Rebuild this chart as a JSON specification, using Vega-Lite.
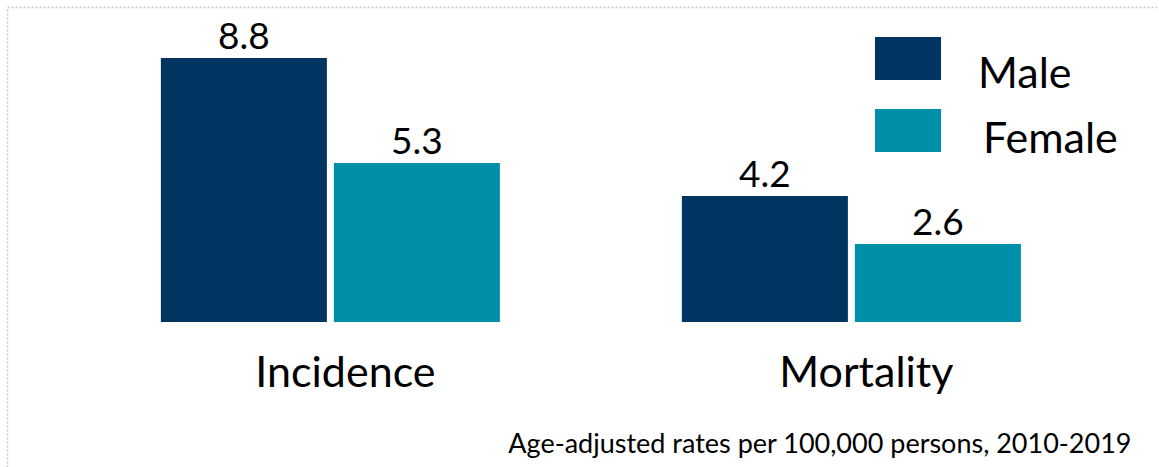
{
  "$schema": "https://vega.github.io/schema/vega-lite/v6.json",
  "width": 1152,
  "height": 460,
  "padding": {"left": 7, "top": 7, "right": 0, "bottom": 0},
  "autosize": {"type": "none"},
  "background": "white",
  "config": {
    "view": {"stroke": null},
    "font": "Lato",
    "axis": {"grid": false}
  },
  "data": {
    "values": [
      {"measure": "Incidence", "sex": "Male", "rate": 8.8},
      {"measure": "Incidence", "sex": "Female", "rate": 5.3},
      {"measure": "Mortality", "sex": "Male", "rate": 4.2},
      {"measure": "Mortality", "sex": "Female", "rate": 2.6}
    ]
  },
  "encoding": {
    "x": {
      "field": "measure",
      "type": "nominal",
      "sort": ["Incidence", "Mortality"],
      "scale": {"paddingInner": 0.3493, "paddingOuter": 0.2802, "align": 0.527}
    },
    "xOffset": {
      "field": "sex",
      "type": "nominal",
      "sort": ["Male", "Female"],
      "scale": {"paddingInner": 0.0405, "paddingOuter": 0}
    },
    "y": {
      "field": "rate",
      "type": "quantitative",
      "scale": {"domain": [-4.8333, 10.5], "nice": false, "zero": false},
      "axis": {
        "title": null, "labels": false, "ticks": false,
        "domain": true, "domainColor": "#c8c8c8", "domainDash": [2, 2], "domainWidth": 1.5
      }
    }
  },
  "layer": [
    {
      "mark": {"type": "bar"},
      "encoding": {
        "y2": {"datum": 0},
        "x": {
          "field": "measure",
          "type": "nominal",
          "sort": ["Incidence", "Mortality"],
          "axis": {
            "orient": "bottom",
            "offset": -145,
            "domain": false,
            "ticks": false,
            "labelAngle": 0,
            "labelFont": "Lato",
            "labelFontSize": 43,
            "labelColor": "black",
            "labelPadding": 30,
            "labelOffset": 15,
            "labelLimit": 500,
            "title": "Age-adjusted rates per 100,000 persons, 2010-2019",
            "titleFont": "Lato",
            "titleFontSize": 27,
            "titleFontWeight": "normal",
            "titleColor": "black",
            "titleX": 1124,
            "titleY": 130,
            "titleAlign": "right",
            "titleAnchor": "end",
            "titleBaseline": "alphabetic",
            "titleLimit": 1000
          }
        },
        "color": {
          "field": "sex",
          "type": "nominal",
          "scale": {"domain": ["Male", "Female"], "range": ["#003562", "#008FA9"]},
          "legend": {
            "title": null,
            "orient": "none",
            "legendX": 868,
            "legendY": 18.5,
            "padding": 0,
            "symbolType": "M-1,-0.65L1,-0.65L1,0.65L-1,0.65Z",
            "symbolSize": 4356,
            "symbolStrokeWidth": 0,
            "symbolOpacity": 1,
            "rowPadding": 1,
            "clipHeight": 66,
            "labelFont": "Lato",
            "labelFontSize": 43,
            "labelColor": "black",
            "labelOffset": 37,
            "labelBaseline": "alphabetic",
            "labelLimit": 400,
            "encode": {
              "labels": {
                "update": {
                  "dy": {"signal": "datum.value === 'Male' ? 29 : 22"},
                  "dx": {"signal": "datum.value === 'Male' ? 0 : 5"}
                }
              }
            }
          }
        }
      }
    },
    {
      "mark": {"type": "text", "baseline": "alphabetic", "dy": -9, "fontSize": 37, "font": "Lato", "color": "black"},
      "encoding": {
        "x": {
          "field": "measure",
          "type": "nominal",
          "sort": ["Incidence", "Mortality"],
          "axis": {
            "orient": "top",
            "labels": false,
            "ticks": false,
            "title": null,
            "domain": true,
            "domainColor": "#c8c8c8",
            "domainDash": [2, 2],
            "domainWidth": 1.5
          }
        },
        "text": {"field": "rate", "type": "quantitative", "format": ".1f"}
      }
    }
  ],
  "resolve": {"axis": {"x": "independent"}}
}
